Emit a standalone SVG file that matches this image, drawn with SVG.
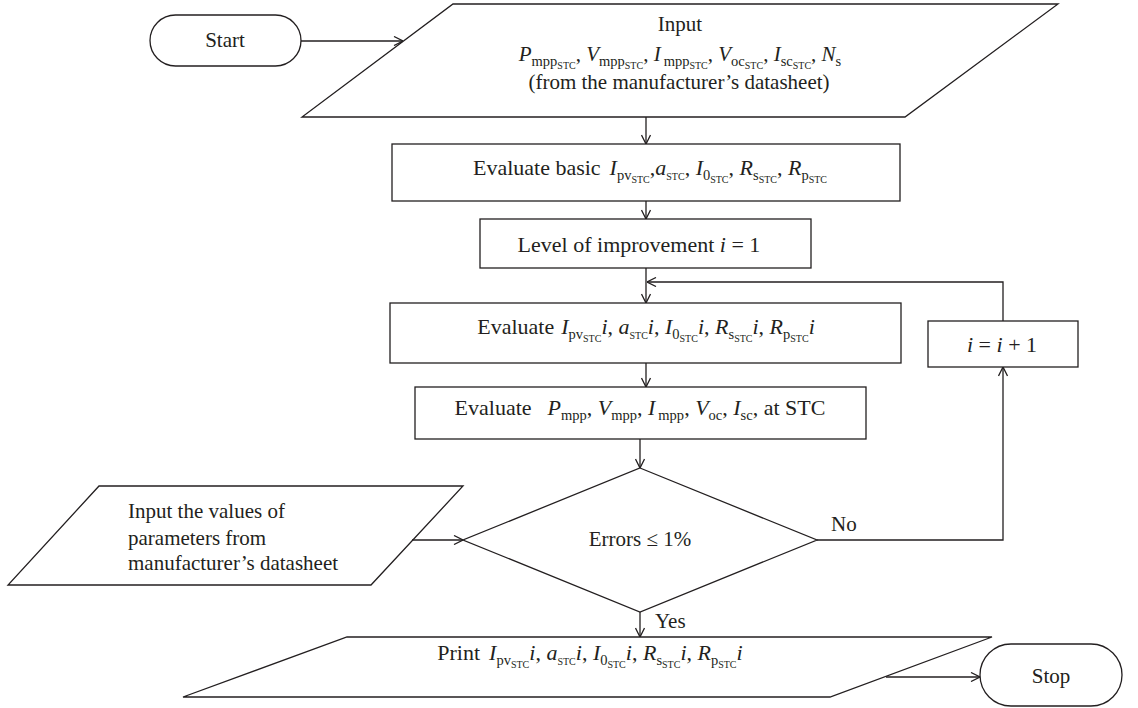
<svg xmlns="http://www.w3.org/2000/svg" width="1138" height="708" viewBox="0 0 1138 708">
<style>
text { font-family: "Liberation Serif", "Times New Roman", serif; font-size: 21px; fill: #231f20; }
.b { font-size: 22px; }
.v { font-style: italic; }
.s { font-size: 14.5px; }
.ss { font-size: 10px; }
.shape { fill: #ffffff; stroke: #231f20; stroke-width: 1.3; }
.conn { fill: none; stroke: #231f20; stroke-width: 1.3; }
</style>
<defs>
<marker id="arr" viewBox="0 0 10 10" refX="10" refY="5" markerWidth="10" markerHeight="10" markerUnits="userSpaceOnUse" orient="auto">
<path d="M1,0.5 L10,5 L1,9.5" fill="none" stroke="#231f20" stroke-width="1.3"/>
</marker>
</defs>
<rect width="1138" height="708" fill="#ffffff"/>

<g id="start">
<rect class="shape" x="150" y="15" width="151" height="51" rx="25.5"/>
<text x="225" y="47" text-anchor="middle">Start</text>
</g>

<g id="input">
<polygon class="shape" points="453,4 1058,4 905,117 302,117"/>
<text x="680" y="31" text-anchor="middle">Input</text>
<text x="680" y="61" text-anchor="middle"><tspan class="v">P</tspan><tspan class="s" dy="5">mpp</tspan><tspan class="ss" dy="3">STC</tspan><tspan dy="-8">, </tspan><tspan class="v">V</tspan><tspan class="s" dy="5">mpp</tspan><tspan class="ss" dy="3">STC</tspan><tspan dy="-8">, </tspan><tspan class="v">I</tspan><tspan class="s" dy="5" dx="3">mpp</tspan><tspan class="ss" dy="3">STC</tspan><tspan dy="-8">, </tspan><tspan class="v">V</tspan><tspan class="s" dy="5">oc</tspan><tspan class="ss" dy="3">STC</tspan><tspan dy="-8">, </tspan><tspan class="v">I</tspan><tspan class="s" dy="5">sc</tspan><tspan class="ss" dy="3">STC</tspan><tspan dy="-8">, </tspan><tspan class="v">N</tspan><tspan class="s" dy="5">s</tspan></text>
<text x="679" y="89" text-anchor="middle">(from the manufacturer’s datasheet)</text>
</g>

<g id="eval-basic">
<rect class="shape" x="392" y="144" width="508" height="57"/>
<text class="b" x="650" y="175" text-anchor="middle">Evaluate basic<tspan class="v" dx="9">I</tspan><tspan class="s" dy="5">pv</tspan><tspan class="ss" dy="3">STC</tspan><tspan dy="-8">,</tspan><tspan class="v">a</tspan><tspan class="ss" dy="5">STC</tspan><tspan dy="-5">, </tspan><tspan class="v">I</tspan><tspan class="s" dy="5">0</tspan><tspan class="ss" dy="3">STC</tspan><tspan dy="-8">, </tspan><tspan class="v">R</tspan><tspan class="s" dy="5">s</tspan><tspan class="ss" dy="3">STC</tspan><tspan dy="-8">, </tspan><tspan class="v">R</tspan><tspan class="s" dy="5">p</tspan><tspan class="ss" dy="3">STC</tspan></text>
</g>

<g id="level">
<rect class="shape" x="480" y="219" width="331" height="49"/>
<text class="b" x="639" y="252" text-anchor="middle">Level of improvement <tspan class="v">i</tspan> = 1</text>
</g>

<g id="eval-i">
<rect class="shape" x="390" y="303" width="511" height="60"/>
<text class="b" x="646" y="334" text-anchor="middle">Evaluate<tspan class="v" dx="7">I</tspan><tspan class="s" dy="5">pv</tspan><tspan class="ss" dy="3">STC</tspan><tspan class="v" dy="-8">i</tspan><tspan>, </tspan><tspan class="v">a</tspan><tspan class="ss" dy="5">STC</tspan><tspan class="v" dy="-5">i</tspan><tspan>, </tspan><tspan class="v">I</tspan><tspan class="s" dy="5">0</tspan><tspan class="ss" dy="3">STC</tspan><tspan class="v" dy="-8">i</tspan><tspan>, </tspan><tspan class="v">R</tspan><tspan class="s" dy="5">s</tspan><tspan class="ss" dy="3">STC</tspan><tspan class="v" dy="-8">i</tspan><tspan>, </tspan><tspan class="v">R</tspan><tspan class="s" dy="5">p</tspan><tspan class="ss" dy="3">STC</tspan><tspan class="v" dy="-8">i</tspan></text>
</g>

<g id="eval-p">
<rect class="shape" x="415" y="387" width="451" height="52"/>
<text class="b" x="640" y="415" text-anchor="middle">Evaluate<tspan class="v" dx="16">P</tspan><tspan class="s" dy="5">mpp</tspan><tspan dy="-5">, </tspan><tspan class="v">V</tspan><tspan class="s" dy="5">mpp</tspan><tspan dy="-5">, </tspan><tspan class="v">I</tspan><tspan class="s" dy="5" dx="3">mpp</tspan><tspan dy="-5">, </tspan><tspan class="v">V</tspan><tspan class="s" dy="5">oc</tspan><tspan dy="-5">, </tspan><tspan class="v">I</tspan><tspan class="s" dy="5">sc</tspan><tspan dy="-5">, at STC</tspan></text>
</g>

<g id="decision">
<polygon class="shape" points="640,468 817,540 640,612 463,540"/>
<text x="640" y="546" text-anchor="middle">Errors ≤ 1%</text>
</g>

<g id="input-values">
<polygon class="shape" points="99,486 463,486 371,585 8,585"/>
<text x="128" y="518">Input the values of</text>
<text x="128" y="545">parameters from</text>
<text x="128" y="570">manufacturer’s datasheet</text>
</g>

<g id="increment">
<rect class="shape" x="928" y="321" width="150" height="46"/>
<text class="b" x="1002" y="352" text-anchor="middle"><tspan class="v">i</tspan> = <tspan class="v">i</tspan> + 1</text>
</g>

<g id="print">
<polygon class="shape" points="347,637 992,637 830,697 183,697"/>
<text class="b" x="590" y="660" text-anchor="middle">Print<tspan class="v" dx="9">I</tspan><tspan class="s" dy="5">pv</tspan><tspan class="ss" dy="3">STC</tspan><tspan class="v" dy="-8">i</tspan><tspan>, </tspan><tspan class="v">a</tspan><tspan class="ss" dy="5">STC</tspan><tspan class="v" dy="-5">i</tspan><tspan>, </tspan><tspan class="v">I</tspan><tspan class="s" dy="5">0</tspan><tspan class="ss" dy="3">STC</tspan><tspan class="v" dy="-8">i</tspan><tspan>, </tspan><tspan class="v">R</tspan><tspan class="s" dy="5">s</tspan><tspan class="ss" dy="3">STC</tspan><tspan class="v" dy="-8">i</tspan><tspan>, </tspan><tspan class="v">R</tspan><tspan class="s" dy="5">p</tspan><tspan class="ss" dy="3">STC</tspan><tspan class="v" dy="-8">i</tspan></text>
</g>

<g id="stop">
<rect class="shape" x="980" y="644" width="142" height="62" rx="31"/>
<text x="1051" y="683" text-anchor="middle">Stop</text>
</g>

<g id="connectors">
<path class="conn" marker-end="url(#arr)" d="M301,41 H403"/>
<path class="conn" marker-end="url(#arr)" d="M646,117 V144"/>
<path class="conn" marker-end="url(#arr)" d="M646,201 V219"/>
<path class="conn" marker-end="url(#arr)" d="M646,268 V303"/>
<path class="conn" marker-end="url(#arr)" d="M646,363 V387"/>
<path class="conn" marker-end="url(#arr)" d="M640,439 V468"/>
<path class="conn" marker-end="url(#arr)" d="M640,612 V637"/>
<path class="conn" marker-end="url(#arr)" d="M817,540 H1003 V367"/>
<path class="conn" marker-end="url(#arr)" d="M1003,321 V282 H647"/>
<path class="conn" marker-end="url(#arr)" d="M412,540 H463"/>
<path class="conn" marker-end="url(#arr)" d="M886,677 H980"/>
<text x="831" y="531">No</text>
<text x="655" y="628">Yes</text>
</g>
</svg>
